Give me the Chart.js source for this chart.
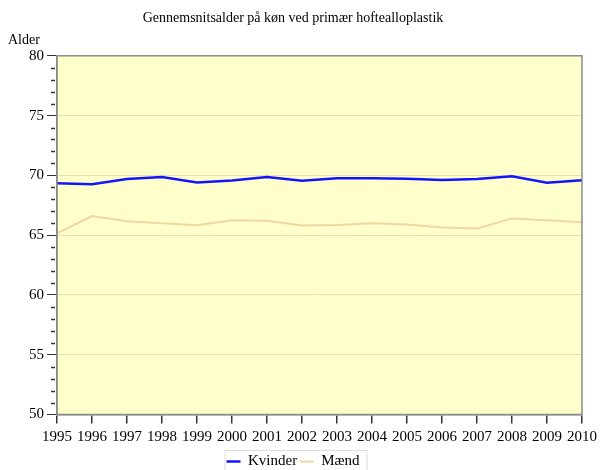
<!DOCTYPE html>
<html>
<head>
<meta charset="utf-8">
<script src="https://cdn.jsdelivr.net/npm/chart.js@4/dist/chart.umd.min.js"></script>
<style>
  html, body { margin: 0; padding: 0; background: #fff; }
  #wrap { width: 602px; height: 470px; }
</style>
</head>
<body>
<div id="wrap"><canvas id="ageChart"></canvas></div>
<script>
// Data
const years = ['1995', '1996', '1997', '1998', '1999', '2000', '2001', '2002',
               '2003', '2004', '2005', '2006', '2007', '2008', '2009', '2010'];
const kvinder = [69.35, 69.25, 69.7, 69.87, 69.4, 69.58, 69.87, 69.55,
                 69.75, 69.75, 69.72, 69.62, 69.7, 69.93, 69.38, 69.6];
const maend = [65.15, 66.6, 66.17, 66.0, 65.82, 66.25, 66.2, 65.8,
               65.85, 66.0, 65.9, 65.63, 65.55, 66.4, 66.25, 66.08];
const seriesNames = ['Kvinder', 'Mænd'];
const chartTitle = 'Gennemsnitsalder på køn ved primær hoftealloplastik';
const yTitle = 'Alder';

const serif = "'Liberation Serif', 'Times New Roman', serif";

// Pale yellow plot area, grey frame, minor ticks and axis label
const plotDecor = {
    id: 'plotDecor',
    beforeDraw(chart) {
        const { ctx, chartArea: a } = chart;
        ctx.save();
        ctx.fillStyle = '#ffffcc';
        ctx.fillRect(a.left, a.top, a.right - a.left, a.bottom - a.top);
        ctx.restore();
    },
    afterDraw(chart) {
        const { ctx, chartArea: a } = chart;
        const y = chart.scales.y;
        ctx.save();
        ctx.strokeStyle = '#8a8a8a';
        ctx.lineWidth = 1.5;
        ctx.strokeRect(a.left, a.top, a.right - a.left, a.bottom - a.top);

        // minor ticks every 1 year of age
        ctx.strokeStyle = '#333';
        ctx.lineWidth = 1.5;
        for (let v = y.min; v <= y.max; v++) {
            if (v % 5 === 0) continue;
            const py = Math.round(y.getPixelForValue(v)) + 0.5;
            ctx.beginPath();
            ctx.moveTo(a.left - 6, py);
            ctx.lineTo(a.left - 2, py);
            ctx.stroke();
        }

        // "Alder" above the y axis
        ctx.fillStyle = '#000';
        ctx.font = '14px ' + serif;
        ctx.textAlign = 'left';
        ctx.textBaseline = 'middle';
        ctx.fillText(yTitle, 8, 40);

        // thin box round the legend
        const boxes = chart.legend.legendHitBoxes;
        if (boxes && boxes.length) {
            const first = boxes[0], last = boxes[boxes.length - 1];
            ctx.strokeStyle = '#dddddd';
            ctx.lineWidth = 1;
            ctx.strokeRect(first.left - 1.5, first.top - 3.5,
                           last.left + last.width - first.left + 9, first.height + 12);
        }
        ctx.restore();
    }
};

new Chart(document.getElementById('ageChart'), {
    type: 'line',
    data: {
        labels: years,
        datasets: [
            {
                label: seriesNames[0],
                data: kvinder,
                borderColor: '#1414ff',
                backgroundColor: '#1414ff',
                borderWidth: 2.5,
                pointRadius: 0,
                tension: 0
            },
            {
                label: seriesNames[1],
                data: maend,
                borderColor: '#f2d6a2',
                backgroundColor: '#f2d6a2',
                borderWidth: 2,
                pointRadius: 0,
                tension: 0
            }
        ]
    },
    options: {
        responsive: true,
        maintainAspectRatio: false,
        animation: false,
        layout: { padding: { left: 0, right: 16, top: 4, bottom: -9 } },
        plugins: {
            title: {
                display: true,
                text: chartTitle,
                color: '#000',
                font: { family: serif, size: 14, weight: 'normal' },
                padding: { top: 6, bottom: 29 }
            },
            legend: {
                position: 'bottom',
                labels: {
                    color: '#000',
                    font: { family: serif, size: 15 },
                    usePointStyle: true,
                    pointStyle: 'line',
                    pointStyleWidth: 14,
                    boxHeight: 15,
                    padding: 2.5
                }
            },
            tooltip: { enabled: false }
        },
        scales: {
            x: {
                type: 'category',
                offset: false,
                grid: {
                    drawOnChartArea: false,
                    color: '#333',
                    tickLength: 9,
                    lineWidth: 1.5
                },
                border: { display: true, color: '#8a8a8a', width: 1.5 },
                ticks: {
                    color: '#000',
                    font: { family: serif, size: 15 },
                    maxRotation: 0,
                    autoSkip: false,
                    padding: 5
                }
            },
            y: {
                min: 50,
                max: 80,
                afterFit(scale) { scale.width = 57; },
                grid: {
                    color: ctx => (ctx.tick && ctx.tick.value % 5 === 0 && ctx.tick.value !== 50 && ctx.tick.value !== 80) ? '#e6dfae' : 'transparent',
                    tickColor: ctx => (ctx.tick && ctx.tick.value % 5 === 0) ? '#333' : 'transparent',
                    tickLength: 10,
                    lineWidth: 1
                },
                border: { display: true, color: '#8a8a8a', width: 1.5 },
                ticks: {
                    stepSize: 1,
                    autoSkip: false,
                    color: '#000',
                    font: { family: serif, size: 15 },
                    padding: 3,
                    callback: v => (v % 5 === 0 ? v : '')
                }
            }
        }
    },
    plugins: [plotDecor]
});
</script>
</body>
</html>
